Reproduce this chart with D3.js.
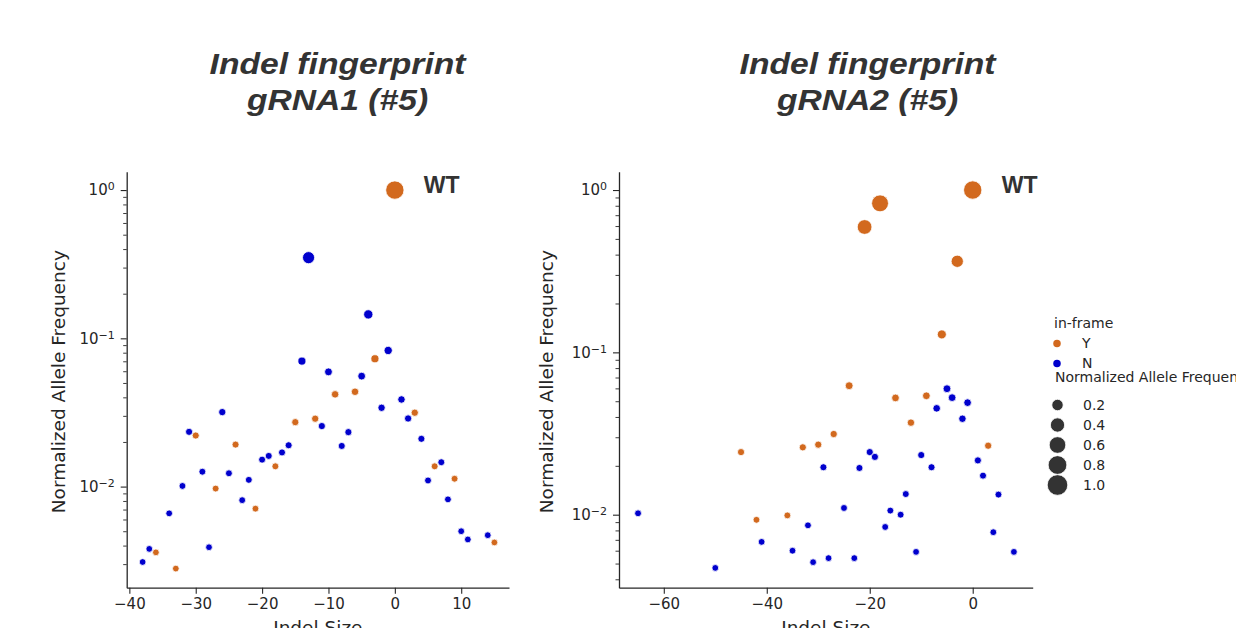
<!DOCTYPE html>
<html>
<head>
<meta charset="utf-8">
<script src="https://cdn.jsdelivr.net/npm/d3@7"></script>
<style>
  body { margin: 0; background: #fff; }
  svg { display: block; }
</style>
</head>
<body>
<div id="chart"></div>
<script>
// gRNA1 - in-frame (Y) indels
const g1SizeY = [0, -36, -33, -30, -27, -24, -21, -18, -15, -12, -9, -6, -3, 3, 6, 9, 15];
const g1FreqY = [1.0, 0.0036, 0.0028, 0.0221, 0.0097, 0.0192, 0.0071, 0.0137, 0.0272, 0.0287, 0.0419, 0.0436, 0.0728, 0.0315, 0.0137, 0.0113, 0.0042];
// gRNA1 - frameshift (N) indels
const g1SizeN = [-38, -37, -34, -32, -31, -29, -28, -26, -25, -23, -22, -20, -19, -17, -16, -14, -13, -11, -10, -8, -7, -5, -4, -2, -1, 1, 2, 4, 5, 7, 8, 10, 11, 14];
const g1FreqN = [0.0031, 0.0038, 0.0066, 0.0101, 0.0234, 0.0126, 0.0039, 0.0318, 0.0123, 0.0081, 0.0111, 0.0152, 0.0161, 0.0170, 0.0190, 0.0702, 0.35, 0.0256, 0.0594, 0.0188, 0.0233, 0.0556, 0.145, 0.034, 0.0828, 0.0387, 0.0288, 0.021, 0.011, 0.0146, 0.0082, 0.0050, 0.0044, 0.0047];

// gRNA2 - in-frame (Y) indels
const g2SizeY = [-45, -42, -36, -33, -30, -27, -24, -21, -18, -15, -12, -9, -6, -3, 0, 3];
const g2FreqY = [0.0243, 0.0093, 0.0099, 0.026, 0.027, 0.0314, 0.0623, 0.592, 0.828, 0.0524, 0.0369, 0.054, 0.129, 0.364, 1.0, 0.0266];
// gRNA2 - frameshift (N) indels
const g2SizeN = [-65, -50, -41, -35, -32, -31, -29, -28, -25, -23, -22, -20, -19, -17, -16, -14, -13, -11, -10, -8, -7, -5, -4, -2, -1, 1, 2, 4, 5, 8];
const g2FreqN = [0.0102, 0.0047, 0.0068, 0.0060, 0.0086, 0.0051, 0.0196, 0.0054, 0.011, 0.0054, 0.0194, 0.0243, 0.0227, 0.0084, 0.0106, 0.0100, 0.0134, 0.0059, 0.0233, 0.0196, 0.0452, 0.0597, 0.0526, 0.039, 0.049, 0.0216, 0.0174, 0.0078, 0.0133, 0.0059];

const g1XTicks = [-40, -30, -20, -10, 0, 10];
const g2XTicks = [-60, -40, -20, 0];
const yMajorTicks = [1, 0.1, 0.01];
const inFrameLevels = ["Y", "N"];
const sizeLegendValues = [0.2, 0.4, 0.6, 0.8, 1.0];

const colors = { Y: "#d2691e", N: "#0000cd" };
const ink = "#262626";
const W = 1236, H = 628;
const sans = "'DejaVu Sans', sans-serif";

const svg = d3.select("#chart").append("svg")
  .attr("width", W)
  .attr("height", H)
  .attr("font-family", sans);

svg.append("rect").attr("width", W).attr("height", H).attr("fill", "#fff");

// marker area (px^2) grows linearly with the frequency, like seaborn's size mapping
const markerArea = d3.scaleLinear().domain([0, 1]).range([Math.PI * 11, Math.PI * 84]);
const legendArea = d3.scaleLinear().domain([0, 1]).range([Math.PI * 14, Math.PI * 106]);
const symbol = d3.symbol().type(d3.symbolCircle);

function rows(sizes, freqs, inFrame) {
  return sizes.map((s, i) => ({ size: s, freq: freqs[i], inFrame }));
}

function styleAxis(a) {
  a.attr("font-family", sans).attr("font-size", 15);
  a.select(".domain").attr("stroke", ink).attr("stroke-width", 1.3);
  a.selectAll(".tick line").attr("stroke", ink).attr("stroke-width", 1.1);
  a.selectAll(".tick text").attr("fill", ink);
}

function drawPanel(cfg) {
  const x = d3.scaleLinear().domain(cfg.xDomain).range([cfg.left, cfg.right]);
  const y = d3.scaleLog().domain(cfg.yDomain).range([cfg.bottom, cfg.top]);
  const g = svg.append("g");

  // minor log ticks
  const minor = [];
  for (let e = -3; e <= 0; e++) {
    for (let m = 2; m <= 9; m++) {
      const v = m * Math.pow(10, e);
      if (v >= cfg.yDomain[0] && v <= cfg.yDomain[1]) minor.push(v);
    }
  }
  g.append("g")
    .attr("transform", `translate(${cfg.left},0)`)
    .call(d3.axisLeft(y).tickValues(minor).tickSize(3.5).tickSizeOuter(0).tickFormat(""))
    .call(a => a.select(".domain").remove())
    .call(a => a.selectAll("line").attr("stroke", ink).attr("stroke-width", 0.9));

  // y axis (log, major)
  const yAxis = g.append("g")
    .attr("transform", `translate(${cfg.left},0)`)
    .call(d3.axisLeft(y).tickValues(yMajorTicks).tickSize(6).tickPadding(6).tickSizeOuter(0))
    .call(styleAxis);
  yAxis.selectAll(".tick text")
    .text(null)
    .each(function(d) {
      const t = d3.select(this);
      const exp = Math.round(Math.log10(d));
      t.append("tspan").text("10");
      t.append("tspan").attr("dy", "-0.45em").attr("font-size", 11)
        .text(exp === 0 ? "0" : "\u2212" + Math.abs(exp));
    });

  // x axis
  g.append("g")
    .attr("transform", `translate(0,${cfg.bottom})`)
    .call(d3.axisBottom(x).tickValues(cfg.xTicks).tickSize(6).tickPadding(5).tickSizeOuter(0))
    .call(styleAxis);

  // points
  const data = rows(cfg.sizeY, cfg.freqY, "Y").concat(rows(cfg.sizeN, cfg.freqN, "N"));
  g.selectAll(".pt")
    .data(data)
    .enter()
    .append("path")
    .attr("class", "pt")
    .attr("transform", d => `translate(${x(d.size)},${y(d.freq)})`)
    .attr("d", d => symbol.size(markerArea(d.freq))())
    .attr("fill", d => colors[d.inFrame])
    .attr("stroke", "#fff")
    .attr("stroke-width", 0.8);

  // WT annotation next to the wild-type point
  g.append("text")
    .attr("x", x(0) + 29)
    .attr("y", y(1) + 2.5)
    .attr("fill", "#333")
    .attr("font-family", "'Liberation Sans', Arial, sans-serif")
    .attr("font-weight", "bold")
    .attr("font-size", 23)
    .text("WT");

  // axis labels
  svg.append("text")
    .attr("text-anchor", "middle")
    .attr("x", (cfg.left + cfg.right) / 2)
    .attr("y", cfg.bottom + 46.5)
    .attr("fill", ink)
    .attr("font-size", 18.5)
    .text("Indel Size");

  svg.append("text")
    .attr("text-anchor", "middle")
    .attr("transform", `translate(${cfg.yLabelX},${(cfg.top + cfg.bottom) / 2 + 2}) rotate(-90)`)
    .attr("fill", ink)
    .attr("font-size", 18.5)
    .text("Normalized Allele Frequency");

  // title (two lines, bold italic)
  const title = svg.append("g")
    .attr("transform", `translate(${cfg.titleX},0) scale(1.16,1)`)
    .attr("font-family", "'Liberation Sans', Arial, sans-serif")
    .attr("font-weight", "bold")
    .attr("font-style", "italic")
    .attr("font-size", 29)
    .attr("fill", "#333")
    .attr("text-anchor", "middle");
  cfg.title.forEach((line, i) => {
    title.append("text").attr("x", 0).attr("y", 74 + i * 36).text(line);
  });
}

drawPanel({
  left: 126.7, right: 509, top: 171.7, bottom: 587.7,
  xDomain: [-40.4, 17.2], yDomain: [0.00208, 1.33],
  xTicks: g1XTicks,
  sizeY: g1SizeY, freqY: g1FreqY, sizeN: g1SizeN, freqN: g1FreqN,
  yLabelX: 65, titleX: 337.5,
  title: ["Indel fingerprint", "gRNA1 (#5)"]
});

drawPanel({
  left: 619, right: 1032.7, top: 171.7, bottom: 587.7,
  xDomain: [-68.7, 11.65], yDomain: [0.00355, 1.297],
  xTicks: g2XTicks,
  sizeY: g2SizeY, freqY: g2FreqY, sizeN: g2SizeN, freqN: g2FreqN,
  yLabelX: 553, titleX: 867.5,
  title: ["Indel fingerprint", "gRNA2 (#5)"]
});

// legend (hue then size)
const legend = svg.append("g")
  .attr("fill", ink)
  .attr("font-size", 14);

legend.append("text").attr("x", 1054).attr("y", 328).text("in-frame");
inFrameLevels.forEach((lvl, i) => {
  const cy = 343.5 + i * 20;
  legend.append("path")
    .attr("transform", `translate(1057,${cy})`)
    .attr("d", symbol.size(Math.PI * 14)())
    .attr("fill", colors[lvl]);
  legend.append("text").attr("x", 1082).attr("y", cy + 4.5).text(lvl);
});

legend.append("text").attr("x", 1055).attr("y", 382).text("Normalized Allele Frequency");
sizeLegendValues.forEach((v, i) => {
  const cy = 405 + i * 20;
  legend.append("path")
    .attr("transform", `translate(1057.5,${cy})`)
    .attr("d", symbol.size(legendArea(v))())
    .attr("fill", "#333")
    .attr("stroke", "#fff")
    .attr("stroke-width", 0.8);
  legend.append("text").attr("x", 1083).attr("y", cy + 5).text(v.toFixed(1));
});
</script>
</body>
</html>
